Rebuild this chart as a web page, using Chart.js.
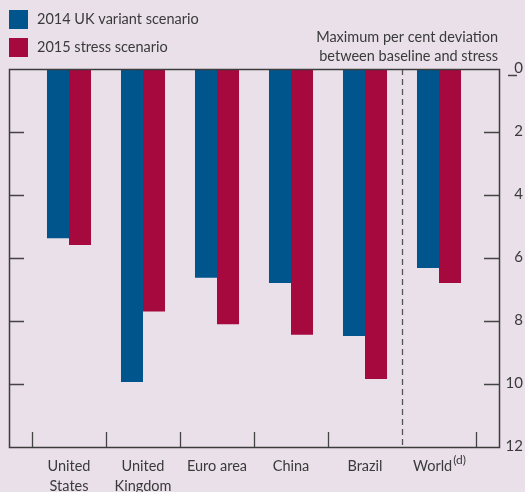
<!DOCTYPE html>
<html>
<head>
<meta charset="utf-8">
<script src="https://cdn.jsdelivr.net/npm/chart.js@4/dist/chart.umd.min.js"></script>
<style>
  html, body { margin: 0; padding: 0; background: #e9e0e9; }
  #wrap { width: 525px; height: 492px; position: relative; }
</style>
</head>
<body>
<div id="wrap"><canvas id="chart"></canvas></div>
<script>
// ---------- Data ----------
const categories = [["United", "States"], ["United", "Kingdom"], ["Euro area"], ["China"], ["Brazil"], ["World"]];
const variant2014 = [5.37, 9.94, 6.63, 6.79, 8.48, 6.32];
const stress2015 = [5.59, 7.70, 8.10, 8.44, 9.84, 6.79];
const yTicks = [0, 2, 4, 6, 8, 10, 12];
const seriesNames = ["2014 UK variant scenario", "2015 stress scenario"];

const BLUE = "#00558c";
const RED = "#a6093d";
const INK = "#3a3a3a";
const FONT = "Lato, 'Open Sans', sans-serif";
const FS = "14.5px ";
const PAD = 23; // frame sticks out past the first/last category

// frame, ticks, labels, legend and annotation
const decor = {
  id: "decor",
  beforeDraw(chart) {
    const c = chart.ctx;
    c.save();
    c.fillStyle = "#e9e0e9";
    c.fillRect(0, 0, chart.width, chart.height);
    c.restore();
  },
  afterDraw(chart) {
    const c = chart.ctx;
    const a = chart.chartArea;
    const x = chart.scales.x, y = chart.scales.y;
    const L = a.left - PAD, R = a.right + PAD;
    const top = y.getPixelForValue(0), bot = y.getPixelForValue(12);
    c.save();

    // y ticks inward on both sides + right labels
    c.strokeStyle = "#444";
    c.lineWidth = 1.3;
    c.font = "15px " + FONT;
    c.fillStyle = INK;
    c.textAlign = "right";
    c.textBaseline = "middle";
    yTicks.forEach((t) => {
      const py = Math.round(y.getPixelForValue(t)) + 0.5;
      if (t > 0 && t < 12) {
        c.beginPath();
        c.moveTo(L, py); c.lineTo(L + 15, py);
        c.moveTo(R - 15, py); c.lineTo(R, py);
        c.stroke();
      }
      c.fillText(String(t), 523, py - 1);
    });
    // minus sign under the zero
    c.beginPath();
    c.lineWidth = 1.5;
    c.moveTo(508, 75.5); c.lineTo(517, 75.5);
    c.stroke();

    // category boundary ticks and the dashed separator before World
    const step = x.getPixelForValue(1) - x.getPixelForValue(0);
    c.lineWidth = 1.3;
    for (let i = 0; i <= categories.length; i++) {
      const px = Math.round(x.getPixelForValue(0) - step / 2 + i * step) + 0.5;
      c.beginPath();
      if (i === categories.length - 1) {
        c.setLineDash([6, 4]);
        c.strokeStyle = "#555";
        c.moveTo(px, top); c.lineTo(px, bot);
      } else {
        c.setLineDash([]);
        c.strokeStyle = "#444";
        c.moveTo(px, bot); c.lineTo(px, bot - 15);
      }
      c.stroke();
    }
    c.setLineDash([]);

    // frame
    c.strokeStyle = "#3c3c3c";
    c.lineWidth = 1.5;
    c.strokeRect(Math.round(L) + 0.5, Math.round(top) + 0.5, Math.round(R - L), Math.round(bot - top));

    // category labels
    c.fillStyle = INK;
    c.font = FS + FONT;
    c.textAlign = "center";
    c.textBaseline = "middle";
    categories.forEach((lines, i) => {
      const px = x.getPixelForValue(i);
      if (i === categories.length - 1) {
        const w = c.measureText(lines[0]).width;
        c.font = "12px " + FONT;
        const sw = c.measureText("(d)").width;
        c.font = FS + FONT;
        const x0 = px - (w + sw) / 2;
        c.textAlign = "left";
        c.fillText(lines[0], x0, 466);
        c.font = "12px " + FONT;
        c.fillText("(d)", x0 + w + 1, 460);
        c.font = FS + FONT;
        c.textAlign = "center";
        return;
      }
      lines.forEach((s, k) => c.fillText(s, px, 466 + k * 20));
    });

    // legend
    const cols = [BLUE, RED];
    seriesNames.forEach((s, k) => {
      const ly = 10 + k * 28;
      c.fillStyle = cols[k];
      c.fillRect(9, ly, 19, 19);
      c.fillStyle = INK;
      c.textAlign = "left";
      c.font = FS + FONT;
      c.fillText(s, 37, ly + 9.5);
    });

    // annotation
    c.textAlign = "right";
    c.fillText("Maximum per cent deviation", 498, 37);
    c.fillText("between baseline and stress", 498, 56);
    c.restore();
  },
};

new Chart(document.getElementById("chart"), {
  type: "bar",
  data: {
    labels: categories.map((l) => l.join(" ")),
    datasets: [
      { label: seriesNames[0], data: variant2014, backgroundColor: BLUE },
      { label: seriesNames[1], data: stress2015, backgroundColor: RED },
    ],
  },
  options: {
    responsive: true,
    maintainAspectRatio: false,
    animation: false,
    layout: { padding: { left: 32, right: 49, top: 69, bottom: 45 } },
    datasets: { bar: { categoryPercentage: 0.595, barPercentage: 1.0 } },
    plugins: { legend: { display: false }, tooltip: { enabled: false } },
    scales: {
      x: { display: false, offset: true },
      y: { display: false, reverse: true, min: 0, max: 12 },
    },
  },
  plugins: [decor],
});
</script>
</body>
</html>
